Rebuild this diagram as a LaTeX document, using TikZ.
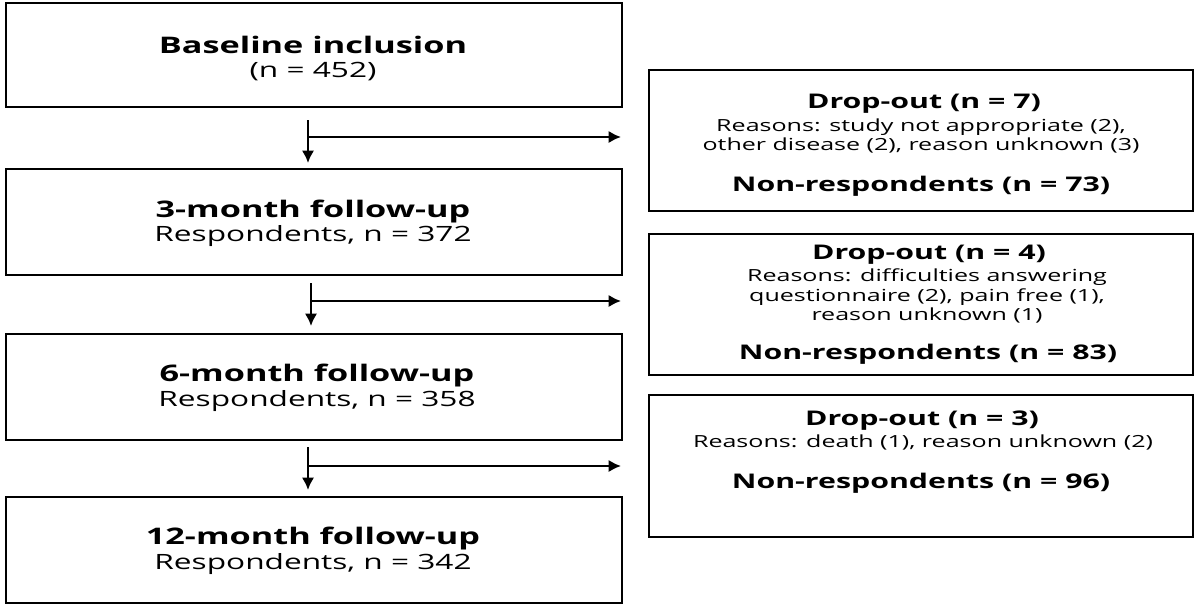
\documentclass[tikz,border=0pt]{standalone}
\usepackage{fontspec}
\usetikzlibrary{arrows.meta}
\setmainfont{Open Sans}
\begin{document}
\begin{tikzpicture}[x=0.02cm,y=-0.02cm,
 box/.style={draw,line width=1.3pt,inner sep=0pt},
 arr/.style={-{Latex[length=7pt,width=7pt]},line width=1.3pt},
 tx/.style={transform shape,xscale=1.5,inner sep=0pt},
 t/.style={tx,font=\fontsize{13}{15}\selectfont\bfseries},
 s/.style={tx,font=\fontsize{12}{14}\selectfont},
 rt/.style={tx,font=\fontsize{11.5}{14}\selectfont\bfseries},
 r/.style={tx,font=\fontsize{9.5}{11}\selectfont,align=center}]
\useasboundingbox (0,0) rectangle (1200,606);
\draw[box] (6,3) rectangle (622,107);
\draw[box] (6,169) rectangle (622,275);
\draw[box] (6,334) rectangle (622,440);
\draw[box] (6,497) rectangle (622,603);
\draw[box] (649,70) rectangle (1193,211);
\draw[box] (649,234) rectangle (1193,375);
\draw[box] (649,395) rectangle (1193,537);
\node[t] (t1) at (313,45) {Baseline inclusion};
\node[s] (s1) at (313,72) {(n = 452)};
\node[t] (t2) at (313,211) {3-month follow-up};
\node[s] (s2) at (313,236) {Respondents, n = 372};
\node[t] (t3) at (317,375) {6-month follow-up};
\node[s] (s3) at (317,401) {Respondents, n = 358};
\node[t] (t4) at (313,538) {12-month follow-up};
\node[s] (s4) at (313,564) {Respondents, n = 342};
\node[rt] (d1) at (924,104) {Drop-out (n = 7)};
\node[r] (r1) at (921,136) {Reasons: study not appropriate (2),\\other disease (2), reason unknown (3)};
\node[rt] (n1) at (921,186) {Non-respondents (n = 73)};
\node[rt] (d2) at (929,255) {Drop-out (n = 4)};
\node[r] (r2) at (927,296) {Reasons: difficulties answering\\questionnaire (2), pain free (1),\\reason unknown (1)};
\node[rt] (n2) at (928,354) {Non-respondents (n = 83)};
\node[rt] (d3) at (922,421) {Drop-out (n = 3)};
\node[r] (r3) at (923,442) {Reasons: death (1), reason unknown (2)};
\node[rt] (n3) at (921,483) {Non-respondents (n = 96)};
\coordinate (a1) at (308,120); \coordinate (a1e) at (308,163);
\coordinate (h1) at (308,137); \coordinate (h1e) at (621,137);
\draw[arr] (a1) -- (a1e); \draw[arr] (h1) -- (h1e);
\coordinate (a2) at (311,283); \coordinate (a2e) at (311,326);
\coordinate (h2) at (311,301); \coordinate (h2e) at (621,301);
\draw[arr] (a2) -- (a2e); \draw[arr] (h2) -- (h2e);
\coordinate (a3) at (308,447); \coordinate (a3e) at (308,490);
\coordinate (h3) at (308,466); \coordinate (h3e) at (621,466);
\draw[arr] (a3) -- (a3e); \draw[arr] (h3) -- (h3e);
\end{tikzpicture}
\end{document}
